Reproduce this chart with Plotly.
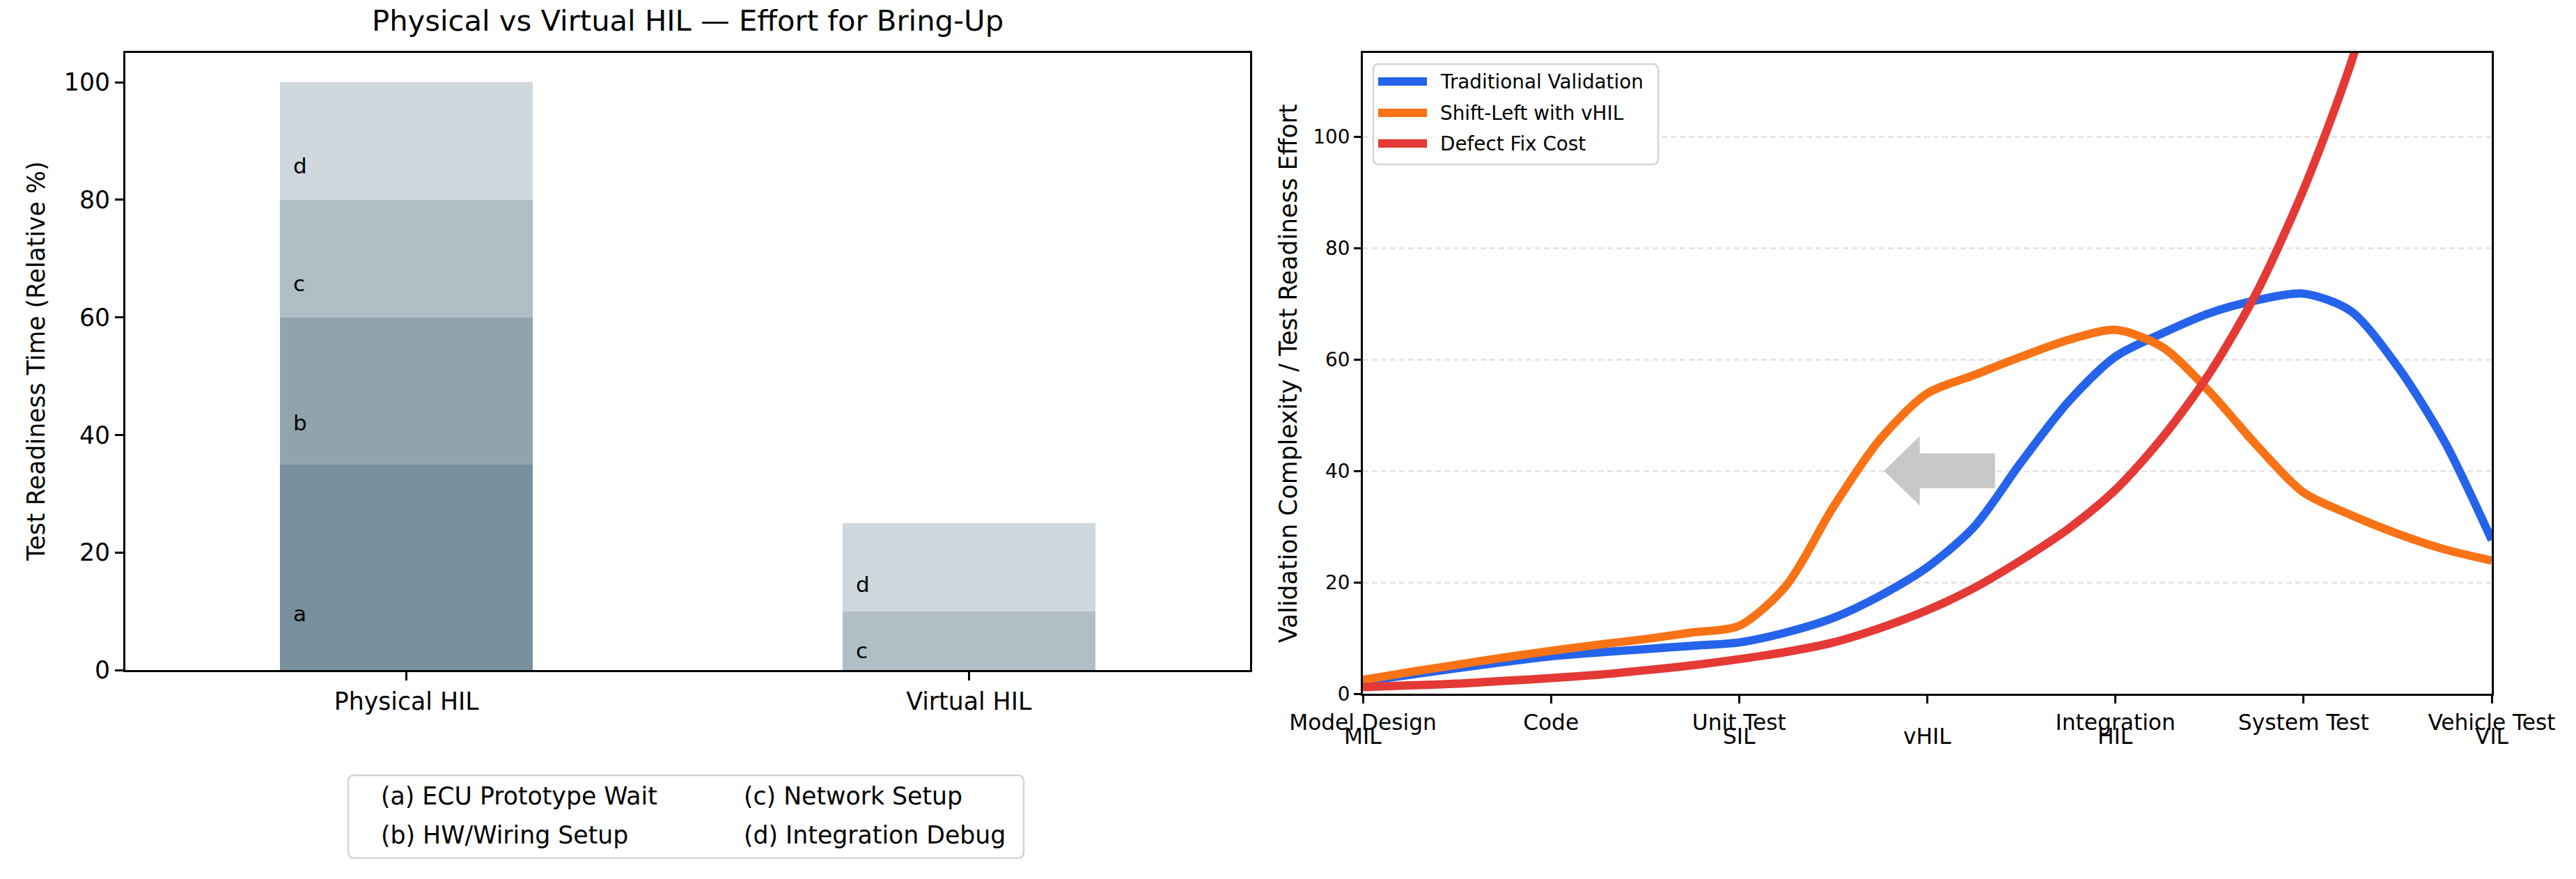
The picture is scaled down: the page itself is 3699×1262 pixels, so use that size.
import plotly.graph_objects as go

W, H = 3699, 1262
FONT = "DejaVu Sans"

# ---------------- data: left chart ----------------
platforms = ["Physical HIL", "Virtual HIL"]
seg_letters = ["a", "b", "c", "d"]
seg_names = ["(a) ECU Prototype Wait", "(b) HW/Wiring Setup",
             "(c) Network Setup", "(d) Integration Debug"]
ecu_prototype_wait = [35, 0]
hw_wiring_setup = [25, 0]
network_setup = [20, 10]
integration_debug = [20, 15]
seg_colors = ["#78909c", "#90a4ae", "#b0bec5", "#cfd8dc"]

# ---------------- data: right chart ----------------
stage_labels = ["Model Design", "Code", "Unit Test", "", "Integration",
                "System Test", "Vehicle Test"]
loop_labels = ["MIL", "", "SIL", "vHIL", "HIL", "", "VIL"]
curve_x = [0, 0.25, 0.5, 0.75, 1, 1.25, 1.5, 1.75, 2, 2.25, 2.5, 2.75, 3,
           3.25, 3.5, 3.75, 4, 4.25, 4.5, 4.75, 5, 5.25, 5.5, 5.75, 6]
traditional_validation = [2.2, 3.4, 4.6, 5.7, 6.7, 7.4, 8.0, 8.6, 9.2, 11.0,
                          13.6, 17.6, 22.7, 30.0, 41.6, 52.4, 60.5, 64.7,
                          68.3, 70.6, 71.8, 68.7, 58.7, 45.2, 27.6]
shift_left_vhil = [2.5, 3.9, 5.2, 6.5, 7.7, 8.8, 9.8, 11.0, 12.2, 19.4, 33.5,
                   45.7, 53.9, 57.2, 60.5, 63.5, 65.3, 62.2, 54.2, 44.6, 36.1,
                   32.1, 28.7, 25.9, 23.9]
defect_fix_cost = [1.2, 1.5, 1.8, 2.3, 2.8, 3.4, 4.2, 5.1, 6.2, 7.5, 9.2,
                   11.8, 15.0, 19.0, 24.0, 29.6, 36.6, 46.0, 57.5, 72.0,
                   90.5, 113.0, 142.0, 178.0, 222.0]
series_names = ["Traditional Validation", "Shift-Left with vHIL", "Defect Fix Cost"]
series_colors = ["#2563eb", "#f97316", "#e53935"]


def px(x):
    return x / W


def py(y):
    return 1 - y / H


L = dict(x0=180, x1=1795, y0=76, y1=962)
R = dict(x0=1957, x1=3578, y0=76, y1=996)
BAR_W = 0.45
LABEL_RAISE = 0.8

fig = go.Figure()

segments = [ecu_prototype_wait, hw_wiring_setup, network_setup, integration_debug]
for vals, name, col in zip(segments, seg_names, seg_colors):
    fig.add_trace(go.Bar(x=platforms, y=vals, name=name, width=BAR_W,
                         marker=dict(color=col, line=dict(width=0)),
                         xaxis="x", yaxis="y", showlegend=False))

series = [traditional_validation, shift_left_vhil, defect_fix_cost]
for vals, name, col in zip(series, series_names, series_colors):
    fig.add_trace(go.Scatter(x=curve_x, y=vals, name=name, mode="lines",
                             line=dict(color=col, width=12, shape="spline", smoothing=0.8),
                             xaxis="x2", yaxis="y2", showlegend=False))

annotations = []
shapes = []

# bar segment letters
for i, _ in enumerate(platforms):
    bottom = 0
    for vals, letter in zip(segments, seg_letters):
        h = vals[i]
        if h > 0:
            annotations.append(dict(x=i - BAR_W / 2 + 0.021, y=bottom + 0.25 * h + LABEL_RAISE,
                                    xref="x", yref="y", text=letter, showarrow=False,
                                    xanchor="left", yanchor="middle",
                                    font=dict(family=FONT, size=31, color="black")))
        bottom += h

# title and axis titles
annotations.append(dict(x=px((L["x0"] + L["x1"]) / 2), y=py(30), xref="paper", yref="paper",
                        text="Physical vs Virtual HIL — Effort for Bring-Up", showarrow=False,
                        xanchor="center", yanchor="middle",
                        font=dict(family=FONT, size=41.7, color="black")))
annotations.append(dict(x=px(52), y=py((L["y0"] + L["y1"]) / 2), xref="paper", yref="paper",
                        text="Test Readiness Time (Relative %)", textangle=-90, showarrow=False,
                        xanchor="center", yanchor="middle",
                        font=dict(family=FONT, size=34.7, color="black")))
annotations.append(dict(x=px(1850), y=py((R["y0"] + R["y1"]) / 2), xref="paper", yref="paper",
                        text="Validation Complexity / Test Readiness Effort", textangle=-90,
                        showarrow=False, xanchor="center", yanchor="middle",
                        font=dict(family=FONT, size=34.7, color="black")))

# second row of stage labels
for i, lab in enumerate(loop_labels):
    if lab:
        annotations.append(dict(x=i, y=py(1057), xref="x2", yref="paper", text=lab,
                                showarrow=False, xanchor="center", yanchor="middle",
                                font=dict(family=FONT, size=31.25, color="black")))


def rrect(x0, y0, x1, y1, r):
    return (f"M{px(x0 + r)},{py(y0)} L{px(x1 - r)},{py(y0)} Q{px(x1)},{py(y0)} {px(x1)},{py(y0 + r)} "
            f"L{px(x1)},{py(y1 - r)} Q{px(x1)},{py(y1)} {px(x1 - r)},{py(y1)} "
            f"L{px(x0 + r)},{py(y1)} Q{px(x0)},{py(y1)} {px(x0)},{py(y1 - r)} "
            f"L{px(x0)},{py(y0 + r)} Q{px(x0)},{py(y0)} {px(x0 + r)},{py(y0)} Z")


# left legend (text only entries, two columns)
shapes.append(dict(type="path", path=rrect(500, 1113, 1470, 1232, 9), xref="paper", yref="paper",
                   line=dict(color="#d4d4d4", width=2.5), fillcolor="white", layer="above"))
col_x = [545, 1066]
row_y = [1143, 1199]
for k, name in enumerate(seg_names):
    c, r = divmod(k, 2)
    annotations.append(dict(x=px(col_x[c]), y=py(row_y[r]), xref="paper", yref="paper",
                            text=name, showarrow=False, xanchor="left", yanchor="middle",
                            font=dict(family=FONT, size=34.7, color="black")))

# right legend
shapes.append(dict(type="path", path=rrect(1972, 92, 2381, 236, 8), xref="paper", yref="paper",
                   line=dict(color="#d4d4d4", width=2.5), fillcolor="rgba(255,255,255,0.85)",
                   layer="above"))
leg_rows = [117, 162, 206]
for name, col, yy in zip(series_names, series_colors, leg_rows):
    shapes.append(dict(type="line", x0=px(1979), x1=px(2049), y0=py(yy), y1=py(yy),
                       xref="paper", yref="paper", line=dict(color=col, width=12), layer="above"))
    annotations.append(dict(x=px(2066), y=py(yy), xref="paper", yref="paper", text=name,
                            showarrow=False, xanchor="left", yanchor="middle",
                            font=dict(family=FONT, size=27.8, color="black")))

# shift-left arrow (decoration)
ARROW_TAIL, ARROW_TIP, ARROW_Y = 3.36, 2.77, 40
SHAFT_HALF, HEAD_HALF, HEAD_LEN = 3.13, 6.26, 0.19
hb = ARROW_TIP + HEAD_LEN
arrow_path = (f"M{ARROW_TAIL},{ARROW_Y + SHAFT_HALF} L{hb},{ARROW_Y + SHAFT_HALF} "
              f"L{hb},{ARROW_Y + HEAD_HALF} L{ARROW_TIP},{ARROW_Y} L{hb},{ARROW_Y - HEAD_HALF} "
              f"L{hb},{ARROW_Y - SHAFT_HALF} L{ARROW_TAIL},{ARROW_Y - SHAFT_HALF} Z")
shapes.append(dict(type="path", path=arrow_path, xref="x2", yref="y2",
                   line=dict(width=0), fillcolor="#c8c8c8", layer="above"))

axis_common = dict(showline=True, mirror=True, linecolor="black", linewidth=3,
                   ticks="outside", tickcolor="black", tickwidth=3, zeroline=False,
                   automargin=False)

fig.update_layout(
    template="none",
    width=W, height=H,
    margin=dict(l=0, r=0, t=0, b=0, pad=0, autoexpand=False),
    paper_bgcolor="white", plot_bgcolor="white",
    barmode="stack", bargap=0,
    showlegend=False,
    font=dict(family=FONT, color="black"),
    xaxis=dict(domain=[px(L["x0"]), px(L["x1"])], anchor="y", range=[-0.5, 1.5],
               type="category", showgrid=False, ticklen=12,
               tickfont=dict(family=FONT, size=34.7, color="black"), **axis_common),
    yaxis=dict(domain=[py(L["y1"]), py(L["y0"])], anchor="x", range=[0, 105],
               tickvals=[0, 20, 40, 60, 80, 100], showgrid=False, ticklen=12,
               tickfont=dict(family=FONT, size=34.7, color="black"), **axis_common),
    xaxis2=dict(domain=[px(R["x0"]), px(R["x1"])], anchor="y2", range=[0, 6],
                tickvals=list(range(len(stage_labels))), ticktext=stage_labels,
                showgrid=False, ticklen=11,
                tickfont=dict(family=FONT, size=31.25, color="black"), **axis_common),
    yaxis2=dict(domain=[py(R["y1"]), py(R["y0"])], anchor="x2", range=[0, 115],
                tickvals=[0, 20, 40, 60, 80, 100], showgrid=True, gridcolor="#e6e6e6",
                griddash="8px,5px", gridwidth=3, ticklen=10,
                tickfont=dict(family=FONT, size=27.8, color="black"), **axis_common),
    annotations=annotations,
    shapes=shapes,
)

fig.write_html("out.html")
